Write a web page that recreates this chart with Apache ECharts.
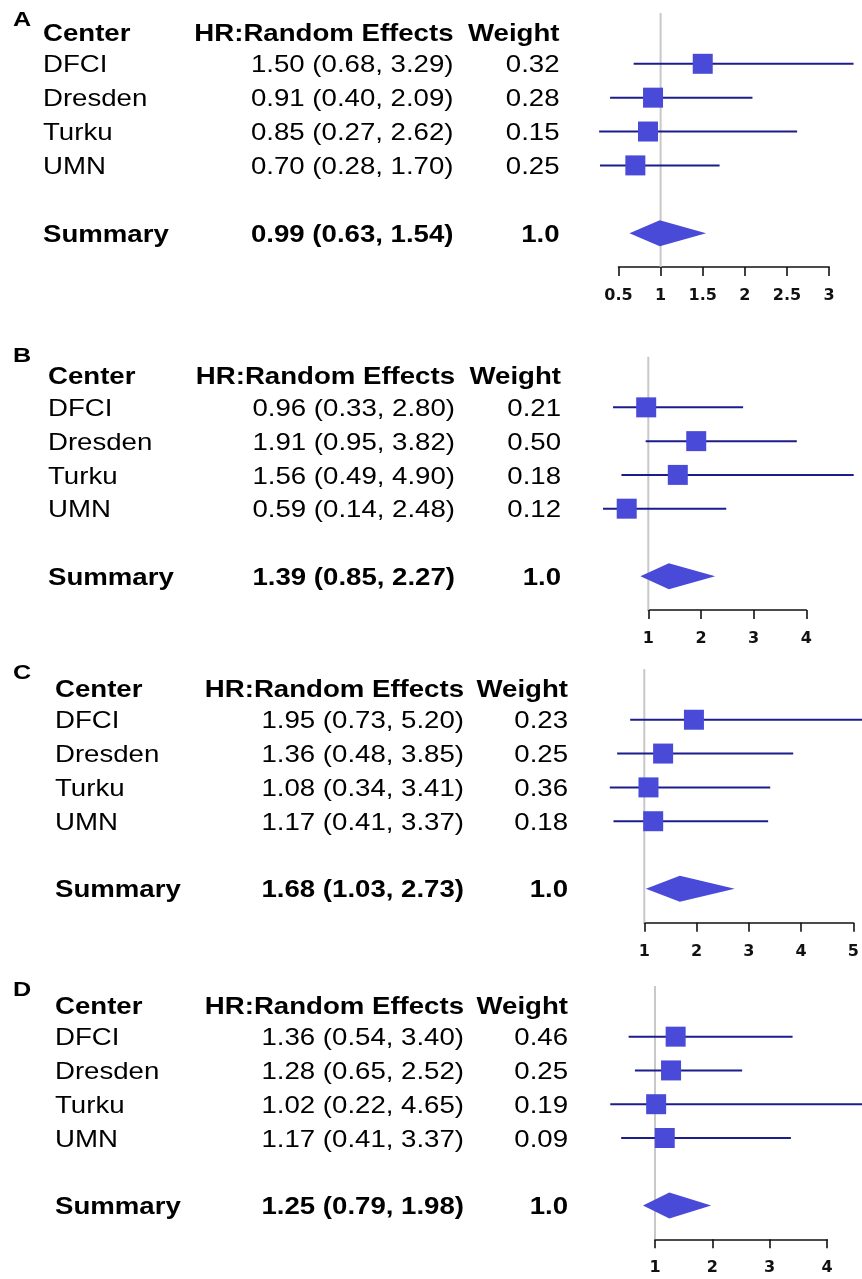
<!DOCTYPE html>
<html><head><meta charset="utf-8">
<script src="https://cdn.jsdelivr.net/npm/echarts@6/dist/echarts.min.js"></script>
<style>html,body{margin:0;padding:0;background:#fff}#c{width:862px;height:1279px}</style>
</head><body><div id="c"></div>
<script>
// ---------------- DATA ----------------
const centers = ['DFCI', 'Dresden', 'Turku', 'UMN'];
const panelLetters = ['A', 'B', 'C', 'D'];
const headers = ['Center', 'HR:Random Effects', 'Weight'];
const summaryLabel = 'Summary';

const hrA = [1.50, 0.91, 0.85, 0.70];
const loA = [0.68, 0.40, 0.27, 0.28];
const hiA = [3.29, 2.09, 2.62, 1.70];
const wA  = [0.32, 0.28, 0.15, 0.25];
const sumA = [0.99, 0.63, 1.54];   // estimate, lower, upper
const ticksA = [0.5, 1, 1.5, 2, 2.5, 3];

const hrB = [0.96, 1.91, 1.56, 0.59];
const loB = [0.33, 0.95, 0.49, 0.14];
const hiB = [2.80, 3.82, 4.90, 2.48];
const wB  = [0.21, 0.50, 0.18, 0.12];
const sumB = [1.39, 0.85, 2.27];
const ticksB = [1, 2, 3, 4];

const hrC = [1.95, 1.36, 1.08, 1.17];
const loC = [0.73, 0.48, 0.34, 0.41];
const hiC = [5.20, 3.85, 3.41, 3.37];
const wC  = [0.23, 0.25, 0.36, 0.18];
const sumC = [1.68, 1.03, 2.73];
const ticksC = [1, 2, 3, 4, 5];

const hrD = [1.36, 1.28, 1.02, 1.17];
const loD = [0.54, 0.65, 0.22, 0.41];
const hiD = [3.40, 2.52, 4.65, 3.37];
const wD  = [0.46, 0.25, 0.19, 0.09];
const sumD = [1.25, 0.79, 1.98];
const ticksD = [1, 2, 3, 4];

const summaryWeight = 1.0;
const refValue = 1;

// ---------------- LAYOUT / STYLE ----------------
const layout = [
  {left: 618.5, width: 210.6, top: 13,    height: 254,   nameX: 43, valX: 453.5, wX: 559.5, letterY: 20.5},
  {left: 648.3, width: 158,   top: 356.7, height: 253.3, nameX: 48, valX: 455,   wX: 561,   letterY: 356.5},
  {left: 644.3, width: 209,   top: 669,   height: 253.7, nameX: 55, valX: 464,   wX: 568,   letterY: 673},
  {left: 655,   width: 172,   top: 986,   height: 253.3, nameX: 55, valX: 464,   wX: 568,   letterY: 990}
];
const FONT = '"Liberation Sans", Arial, Helvetica, sans-serif';
const FS = 24, SX = 1.15;
const BOX = '#4a4ad8', LINE = '#1c1c8c', REF = '#c8c8c8';
const BOX_PX = 20;

const panels = [
  {hr: hrA, lo: loA, hi: hiA, w: wA, sum: sumA, ticks: ticksA},
  {hr: hrB, lo: loB, hi: hiB, w: wB, sum: sumB, ticks: ticksB},
  {hr: hrC, lo: loC, hi: hiC, w: wC, sum: sumC, ticks: ticksC},
  {hr: hrD, lo: loD, hi: hiD, w: wD, sum: sumD, ticks: ticksD}
];

// rows: header = 0, centres = 1..4, summary = 6, axis at 7
const ROW_MIN = -0.5, ROW_MAX = 7, SUM_ROW = 6;

function txt(x, y, text, align, bold, fs, sx) {
  const f = (bold ? 'bold ' : '') + (fs || FS) + 'px ' + FONT;
  return {type: 'text', x: x, y: y, scaleX: sx || SX,
    style: {text: text, fill: '#000', font: f, textAlign: align, textVerticalAlign: 'middle', align: align, verticalAlign: 'middle'}};
}

const grid = [], xAxis = [], yAxis = [], series = [], graphic = [];
panels.forEach(function (P, pi) {
  const L = layout[pi];
  grid.push({left: L.left, top: L.top, width: L.width, height: L.height, containLabel: false});
  xAxis.push({
    type: 'value', gridIndex: pi,
    min: P.ticks[0], max: P.ticks[P.ticks.length - 1], interval: P.ticks[1] - P.ticks[0],
    splitLine: {show: false},
    axisLine: {show: true, onZero: false, lineStyle: {color: '#111', width: 1.6}},
    axisTick: {show: true, length: 9, lineStyle: {color: '#111', width: 1.6}},
    axisLabel: {margin: 21, color: '#111', fontSize: 16, fontWeight: 'bold', fontFamily: '"DejaVu Sans", sans-serif'}
  });
  yAxis.push({type: 'value', gridIndex: pi, inverse: true, min: ROW_MIN, max: ROW_MAX, show: false});

  // reference line at HR = 1
  series.push({
    type: 'custom', xAxisIndex: pi, yAxisIndex: pi, silent: true, clip: false, z: 1,
    data: [[refValue, ROW_MIN, ROW_MAX]],
    renderItem: function (params, api) {
      const a = api.coord([api.value(0), api.value(1)]);
      const b = api.coord([api.value(0), api.value(2)]);
      return {type: 'line', shape: {x1: a[0], y1: a[1], x2: b[0], y2: b[1]}, style: {stroke: REF, lineWidth: 2}};
    }
  });
  // confidence intervals
  series.push({
    type: 'custom', xAxisIndex: pi, yAxisIndex: pi, silent: true, clip: false, z: 2,
    data: P.lo.map(function (l, i) { return [l, P.hi[i], i + 1]; }),
    renderItem: function (params, api) {
      const a = api.coord([api.value(0), api.value(2)]);
      const b = api.coord([api.value(1), api.value(2)]);
      return {type: 'line', shape: {x1: a[0], y1: a[1], x2: b[0], y2: b[1]}, style: {stroke: LINE, lineWidth: 2}};
    }
  });
  // point estimates (boxes)
  series.push({
    type: 'custom', xAxisIndex: pi, yAxisIndex: pi, silent: true, clip: false, z: 3,
    data: P.hr.map(function (h, i) { return [h, i + 1]; }),
    renderItem: function (params, api) {
      const c = api.coord([api.value(0), api.value(1)]);
      return {type: 'rect', shape: {x: c[0] - BOX_PX / 2, y: c[1] - BOX_PX / 2, width: BOX_PX, height: BOX_PX}, style: {fill: BOX}};
    }
  });
  // summary diamond
  series.push({
    type: 'custom', xAxisIndex: pi, yAxisIndex: pi, silent: true, clip: false, z: 3,
    data: [[P.sum[0], P.sum[1], P.sum[2], SUM_ROW]],
    renderItem: function (params, api) {
      const c = api.coord([api.value(0), api.value(3)]);
      const l = api.coord([api.value(1), api.value(3)]);
      const r = api.coord([api.value(2), api.value(3)]);
      const h = 13;
      return {type: 'polygon', shape: {points: [[l[0], c[1]], [c[0], c[1] - h], [r[0], c[1]], [c[0], c[1] + h]]}, style: {fill: BOX}};
    }
  });
  // table text
  const rowsText = [[headers[0], headers[1], headers[2], true, 0]];
  centers.forEach(function (n, i) {
    rowsText.push([n, P.hr[i].toFixed(2) + ' (' + P.lo[i].toFixed(2) + ', ' + P.hi[i].toFixed(2) + ')', P.w[i].toFixed(2), false, i + 1]);
  });
  rowsText.push([summaryLabel, P.sum[0].toFixed(2) + ' (' + P.sum[1].toFixed(2) + ', ' + P.sum[2].toFixed(2) + ')', summaryWeight.toFixed(1), true, SUM_ROW]);
  series.push({
    type: 'custom', xAxisIndex: pi, yAxisIndex: pi, silent: true, clip: false, z: 5,
    data: rowsText.map(function (r) { return [P.ticks[0], r[4]]; }),
    renderItem: function (params, api) {
      const r = rowsText[params.dataIndex];
      const y = api.coord([api.value(0), api.value(1)])[1] + (r[4] === 0 ? 4 : 2);
      return {type: 'group', children: [
        txt(L.nameX, y, r[0], 'left', r[3]),
        txt(L.valX, y, r[1], 'right', r[3]),
        txt(L.wX, y, r[2], 'right', r[3])
      ]};
    }
  });
  graphic.push(txt(13, L.letterY, panelLetters[pi], 'left', true, 21, 1.2));
});

const chart = echarts.init(document.getElementById('c'), null, {renderer: 'canvas'});
chart.setOption({
  animation: false,
  backgroundColor: '#fff',
  grid: grid, xAxis: xAxis, yAxis: yAxis, series: series,
  graphic: {elements: graphic}
});
</script>
</body></html>
